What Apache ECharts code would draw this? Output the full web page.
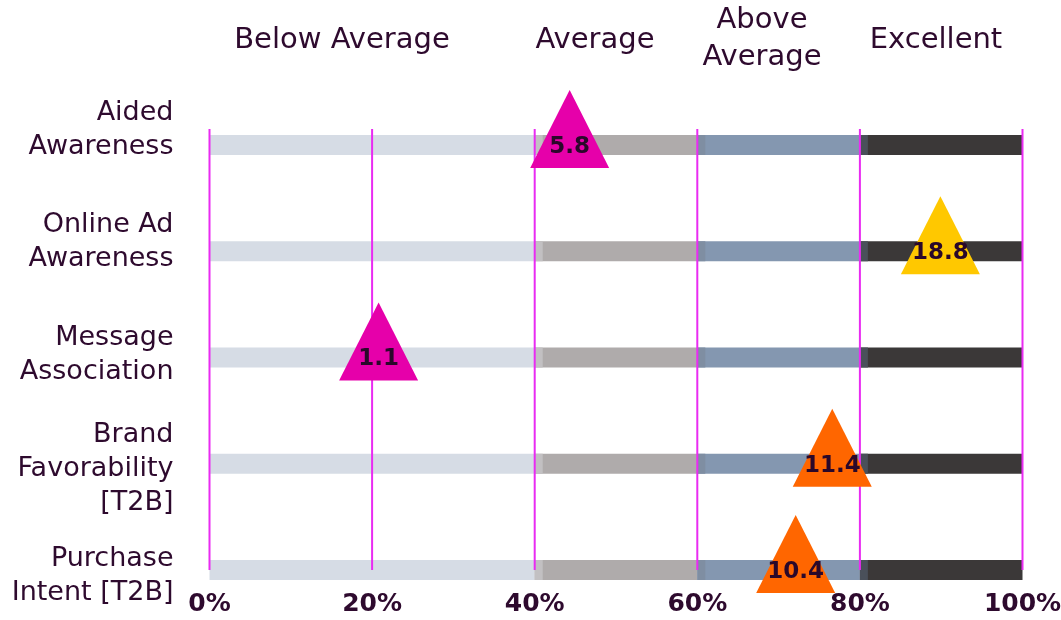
<!DOCTYPE html>
<html>
<head>
<meta charset="utf-8">
<script src="https://cdn.jsdelivr.net/npm/echarts@6/dist/echarts.min.js"></script>
<style>
html,body{margin:0;padding:0;background:#fff;}
#chart{width:1061px;height:620px;}
</style>
</head>
<body>
<div id="chart"></div>
<script>
// ---- data ----
const categories = ['Aided\nAwareness', 'Online Ad\nAwareness', 'Message\nAssociation', 'Brand\nFavorability\n[T2B]', 'Purchase\nIntent [T2B]'];
const bandEdges = [0, 40, 60, 80, 100];
const bandNames = ['Below Average', 'Average', 'Above\nAverage', 'Excellent'];
const scorePositions = [44.3, 89.9, 20.8, 76.6, 72.1];
const scoreLabels = ['5.8', '18.8', '1.1', '11.4', '10.4'];
const xTicks = [0, 20, 40, 60, 80, 100];

// ---- styles ----
const bandColors = ['#D6DCE5', '#AFABAB', '#8497B0', '#3B3838'];
const blendColors = ['#D6DCE5', '#C2C0C2', '#7F8EA2', '#4A505A'];
const markerColors = ['#E600AA', '#FFC800', '#E600AA', '#FF6600', '#FF6600'];
const labelShift = [-15, -9, -3, 5, 6];
const textColor = '#2E0A2E';
const gridColor = '#E92BF2';
const FONT = '"DejaVu Sans", sans-serif';

const segData = [];
categories.forEach((c, ci) => {
  for (let b = 0; b < bandColors.length; b++) {
    segData.push([bandEdges[b], bandEdges[b + 1], ci, b]);
  }
});
const gridLineData = xTicks.map(t => [t]);
const catLabelData = categories.map((c, i) => [0, i]);
const markerData = scorePositions.map((p, i) => ({
  value: [p, i],
  itemStyle: { color: markerColors[i], opacity: 1 },
  label: { formatter: scoreLabels[i] }
}));

const chart = echarts.init(document.getElementById('chart'), null, { renderer: 'canvas' });
const headerFont = '29px ' + FONT;
const option = {
  animation: false,
  grid: { left: 209.5, right: 38.5, top: 145, bottom: 50, containLabel: false, outerBoundsMode: 'none' },
  xAxis: {
    type: 'value', min: 0, max: 100, interval: 20,
    axisLine: { show: false }, axisTick: { show: false }, splitLine: { show: false },
    axisLabel: { formatter: '{value}%', color: textColor, fontFamily: FONT, fontWeight: 'bold', fontSize: 25, margin: 22 }
  },
  yAxis: {
    type: 'value', min: 0, max: 4, interval: 1, inverse: true,
    axisLine: { show: false }, axisTick: { show: false }, splitLine: { show: false },
    axisLabel: { show: false }
  },
  graphic: [
    { type: 'text', x: 342, y: 40, style: { text: bandNames[0], fill: textColor, font: headerFont, textAlign: 'center', textVerticalAlign: 'middle' } },
    { type: 'text', x: 595, y: 40, style: { text: bandNames[1], fill: textColor, font: headerFont, textAlign: 'center', textVerticalAlign: 'middle' } },
    { type: 'text', x: 762, y: 39, style: { text: bandNames[2], fill: textColor, font: headerFont, textAlign: 'center', textVerticalAlign: 'middle', lineHeight: 37 } },
    { type: 'text', x: 936, y: 40, style: { text: bandNames[3], fill: textColor, font: headerFont, textAlign: 'center', textVerticalAlign: 'middle' } }
  ],
  series: [
    {
      type: 'custom', z: 1, silent: true,
      data: segData,
      renderItem: (params, api) => {
        const s = api.coord([api.value(0), api.value(2)]);
        const e = api.coord([api.value(1), api.value(2)]);
        const b = api.value(3);
        const children = [
          { type: 'rect', shape: { x: s[0], y: s[1] - 10, width: e[0] - s[0], height: 20 }, style: { fill: bandColors[b] } }
        ];
        if (b > 0) {
          children.push({ type: 'rect', shape: { x: s[0], y: s[1] - 10, width: 8, height: 20 }, style: { fill: blendColors[b] } });
        }
        return { type: 'group', children };
      }
    },
    {
      type: 'custom', z: 2, silent: true,
      data: gridLineData,
      renderItem: (params, api) => {
        const a = api.coord([api.value(0), -0.15]);
        const b = api.coord([api.value(0), 4]);
        return { type: 'line', shape: { x1: a[0], y1: a[1], x2: b[0], y2: b[1] }, style: { stroke: gridColor, lineWidth: 2 } };
      }
    },
    {
      type: 'custom', z: 2, silent: true,
      data: catLabelData,
      renderItem: (params, api) => {
        const i = params.dataIndex;
        const p = api.coord([api.value(0), api.value(1)]);
        return {
          type: 'text', x: p[0] - 36, y: p[1] + labelShift[i],
          style: { text: categories[i], fill: textColor, font: '27px ' + FONT, textAlign: 'right', textVerticalAlign: 'middle', lineHeight: 34 }
        };
      }
    },
    {
      type: 'scatter', z: 3, symbol: 'triangle', symbolSize: [79, 78], symbolOffset: [0, -16],
      data: markerData,
      label: { show: true, position: 'inside', offset: [0, 18], color: '#2A082A', fontFamily: FONT, fontWeight: 'bold', fontSize: 23 }
    }
  ]
};
chart.setOption(option);
</script>
</body>
</html>
